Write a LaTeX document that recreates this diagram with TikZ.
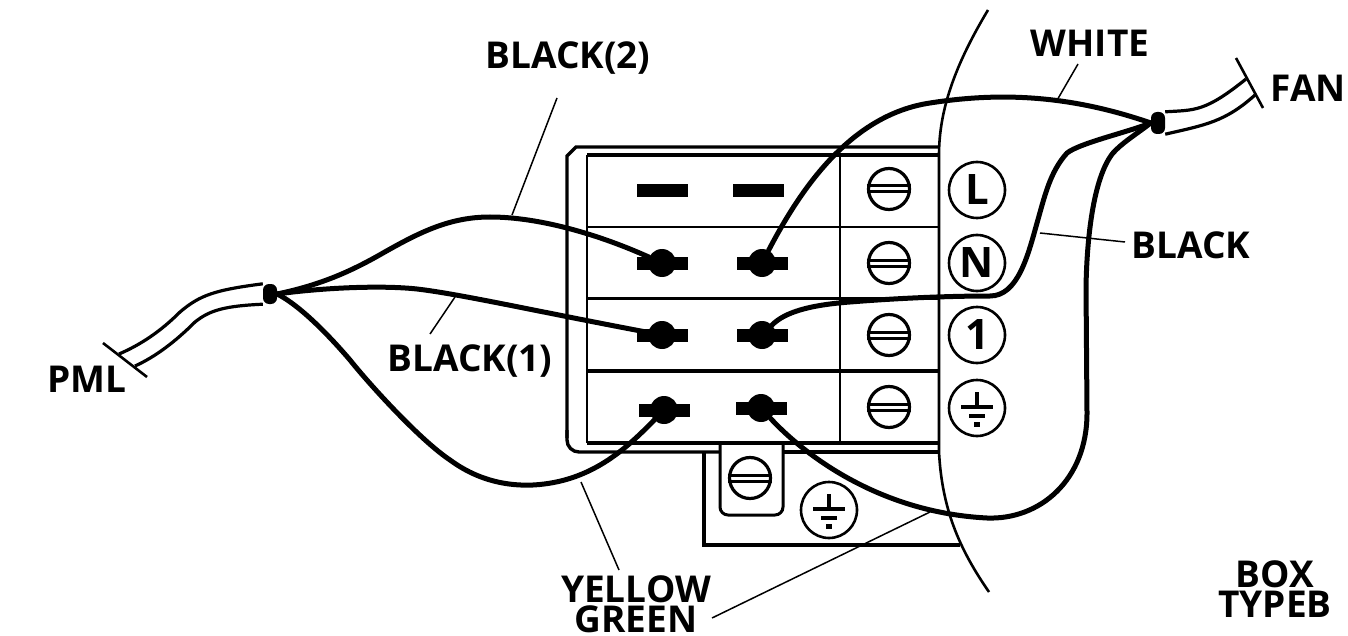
\documentclass[tikz,border=0pt]{standalone}
\usepackage{fontspec}
\setmainfont{Open Sans}
\tikzset{
wirepen/.style={line width=5pt,line cap=round},
cablepen/.style={line width=3.2pt},
leadpen/.style={line width=1.5pt},
framepen/.style={line width=3.4pt},
sepen/.style={line width=2.2pt},
lbl/.style={font=\bfseries\fontsize{37}{30}\selectfont,inner sep=0pt,align=center},
tagcirc/.style={draw,circle,line width=2.6pt,minimum size=56pt,inner sep=0pt,font=\bfseries\fontsize{42}{42}\selectfont},
screwhd/.style={draw,circle,line width=3.2pt,minimum size=41pt,inner sep=0pt},
blob/.style={fill,circle,minimum size=28pt,inner sep=0pt},
tbar/.style={fill,minimum width=51pt,minimum height=13pt,inner sep=0pt},
gndpic/.pic={
\draw[line width=3.4pt](0,-16)--(0,-2);
\draw[line width=3.4pt](-16,-1)--(16,-1);
\draw[line width=3.4pt](-8,8)--(8,8);
\fill(-3,14) rectangle (3,19);
}
}
\begin{document}
\begin{tikzpicture}[x=1pt,y=-1pt]
\useasboundingbox (0,0) rectangle (1348,636);
\pgfmathsetmacro{\kxl}{587}
\pgfmathsetmacro{\kxm}{840}
\pgfmathsetmacro{\kxr}{939}
% frame of the block
\draw[framepen](939,147)--(576,147)--(567,156)--(567,438);
\draw[framepen,rounded corners=12pt](567,430)--(567,452)--(719,452);
\draw[framepen](784,452)--(939,452);
\draw[framepen](\kxl,155)--(\kxr,155);
\draw[framepen](\kxl,443)--(\kxr,443);
\draw[sepen](\kxl,155)--(\kxl,443);
\draw[sepen](\kxm,155)--(\kxm,443);
\draw[sepen](\kxr,155)--(\kxr,443);
\foreach \ky/\kw in {227/2.4,298/3,371/3.6}{\draw[line width=\kw pt](\kxl,\ky)--(\kxr,\ky);}
% earth bracket and tab
\draw[framepen](704,452)--(704,545)--(960,545);
\draw[line width=3pt,rounded corners=8pt](720,443)--(720,515)--(783,515)--(783,443);
% screws
\foreach \sx/\sy/\sn in {889/189/a,889/263/b,889/335/c,889/407/d,750/478/e}{
\node[screwhd](scr\sn) at (\sx,\sy){};
\draw[line width=3pt]([yshift=-3pt]scr\sn.west)--([yshift=-3pt]scr\sn.east);
\draw[line width=3pt]([yshift=3pt]scr\sn.west)--([yshift=3pt]scr\sn.east);
}
% tags
\node[tagcirc](tagL) at (977,190){L};
\node[tagcirc](tagN) at (977,263){N};
\node[tagcirc](tagO) at (977,335){1};
\node[tagcirc](tagG) at (977,408){};
\node[tagcirc](tagE) at (829,510){};
\pic at (tagG) {gndpic};
\pic at (tagE) {gndpic};
% terminals
\node[tbar](barLa) at (662,191){};
\node[tbar](barLb) at (758,191){};
\foreach \tx/\ty/\tn in {662/263/Na,762/263/Nb,662/335/Oa,762/335/Ob,664/410/Ga,761/408/Gb}{
\node[tbar](bar\tn) at (\tx,\ty){};
\node[blob](t\tn) at (\tx,\ty){};
}
% casing edge
\coordinate(arcT) at (988,10);
\coordinate(arcB) at (989,592);
\draw[line width=2.6pt](arcT)..controls (955,65) and (939,110) .. (939,155)--(939,452)..controls (942,510) and (960,550) .. (arcB);
% junctions and cables
\node[fill,rounded corners=6pt,minimum width=14pt,minimum height=20pt,inner sep=0pt](jLeft) at (270,294){};
\node[fill,rounded corners=6pt,minimum width=14pt,minimum height=22pt,inner sep=0pt](jRight) at (1158,123){};
\coordinate(pmlA) at (119,354);
\coordinate(pmlB) at (135,366);
\coordinate(fanA) at (1246,79);
\coordinate(fanB) at (1255,95);
\coordinate(tickPa) at (103,343);
\coordinate(tickPb) at (147,377);
\coordinate(tickFa) at (1236,58);
\coordinate(tickFb) at (1263,108);
\draw[cablepen](jLeft.north west)..controls (215,290) and (200,295) .. (180,312)..controls (160,332) and (140,345) .. (pmlA);
\draw[cablepen](jLeft.south west)..controls (225,306) and (210,310) .. (195,322)..controls (175,342) and (155,357) .. (pmlB);
\draw[line width=2.6pt](tickPa)--(tickPb);
\draw[cablepen](jRight.north east)..controls (1195,110) and (1205,112) .. (fanA);
\draw[cablepen](jRight.south east)..controls (1205,125) and (1225,122) .. (fanB);
\draw[line width=2.6pt](tickFa)--(tickFb);
% wires
\draw[wirepen](jLeft.east)..controls (320,285) and (350,272) .. (383,253)..controls (420,232) and (450,217) .. (490,217)..controls (540,217) and (600,235) .. (tNa);
\draw[wirepen](jLeft.east)..controls (320,288) and (380,285) .. (417,289)..controls (460,294) and (540,312) .. (tOa);
\draw[wirepen](jLeft.east)..controls (295,303) and (320,325) .. (350,360)..controls (370,385) and (420,440) .. (450,460)..controls (480,482) and (510,486) .. (533,485)..controls (590,482) and (625,450) .. (tGa);
\draw[wirepen](tNb)..controls (800,190) and (850,115) .. (930,103)..controls (1000,92) and (1070,95) .. (jRight.west);
\draw[wirepen](tOb)..controls (785,312) and (810,305) .. (850,302)..controls (900,298) and (950,296) .. (990,296)..controls (1018,296) and (1028,255) .. (1037,223)..controls (1045,195) and (1050,172) .. (1067,153)..controls (1080,143) and (1125,133) .. (jRight.west);
\draw[wirepen](tGb)..controls (795,445) and (870,512) .. (987,518)..controls (1040,520) and (1087,480) .. (1087,413)--(1086,287)..controls (1087,230) and (1095,175) .. (1113,153)..controls (1122,143) and (1135,135) .. (jRight.west);
% labels
\node[lbl](lbTwo) at (568,58){BLACK(2)};
\node[lbl](lbOne) at (470,361){BLACK(1)};
\node[lbl](lbWhite) at (1090,43){WHITE};
\node[lbl](lbFan) at (1308,88){FAN};
\node[lbl](lbBlack) at (1191,245){BLACK};
\node[lbl](lbPml) at (87,379){PML};
\node[lbl](lbYg) at (636,604){YELLOW\\GREEN};
\node[lbl](lbBox) at (1275,589){BOX\\TYPEB};
% leaders
\coordinate(ldTwo) at (512,215);
\coordinate(ldOne) at (455,297);
\coordinate(ldWhite) at (1056,102);
\coordinate(ldBlack) at (1040,233);
\coordinate(ldYellow) at (581,482);
\coordinate(ldGreen) at (930,512);
\coordinate(ldTwoA) at (557,98);
\coordinate(ldOneA) at (430,334);
\coordinate(ldWhiteA) at (1078,64);
\coordinate(ldBlackA) at (1125,242);
\coordinate(ldYellowA) at (619,570);
\coordinate(ldGreenA) at (712,618);
\draw[leadpen](ldTwoA)--(ldTwo);
\draw[leadpen](ldOneA)--(ldOne);
\draw[leadpen](ldWhiteA)--(ldWhite);
\draw[leadpen](ldBlackA)--(ldBlack);
\draw[leadpen](ldYellowA)--(ldYellow);
\draw[leadpen](ldGreenA)--(ldGreen);
\end{tikzpicture}
\end{document}
